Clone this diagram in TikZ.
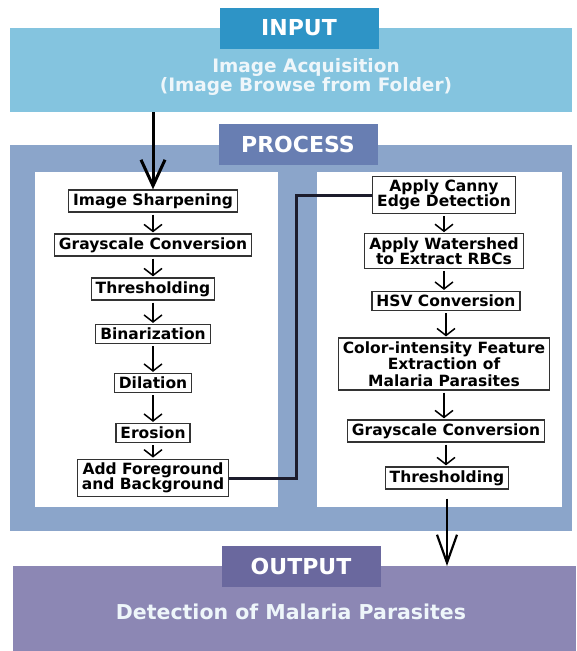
\documentclass[tikz,border=0pt]{standalone}
\usepackage{fontspec}
\setmainfont{DejaVu Sans}
\usepackage{tikz}
\usetikzlibrary{arrows.meta, positioning}

\definecolor{inlabel}{HTML}{2E94C6}
\definecolor{inband}{HTML}{84C4DF}
\definecolor{proclabel}{HTML}{687EB2}
\definecolor{procband}{HTML}{8BA5CA}
\definecolor{outlabel}{HTML}{6A689E}
\definecolor{outband}{HTML}{8C87B4}
\definecolor{bandtext}{HTML}{EEF6FA}
\definecolor{wire}{HTML}{1C1C2C}

\begin{document}
\begin{tikzpicture}[
		x=1pt, y=-1pt,
		band/.style={rectangle, inner sep=0pt, anchor=north west},
		header/.style={rectangle, inner sep=0pt, minimum width=159pt, minimum height=41pt,
			text=white, font=\fontsize{22}{24}\selectfont\bfseries},
		stepbox/.style={draw=black!80, line width=1.2pt, fill=white, align=center,
			inner xsep=4.5pt, inner ysep=3.5pt,
			font=\fontsize{15.5}{15.5}\selectfont\bfseries},
		flow/.style={-{Straight Barb[length=7pt, width=18pt]}, line width=1.5pt, shorten <=2pt, shorten >=1pt},
		bigflow/.style={-{Straight Barb[length=26pt, width=24pt]}, line width=3pt},
		link/.style={wire, line width=3pt}
		]
		
		\useasboundingbox (0,0) rectangle (576,651);
		
		% === INPUT ===
		\node[band, fill=inband, minimum width=562pt, minimum height=84pt] (inband) at (10,28) {};
		\node[header, fill=inlabel] (inlabel) at (299,28) {INPUT};
		\node[text=bandtext, align=center, font=\fontsize{18.5}{19.5}\selectfont\bfseries]
		(intext) at (306,77) {Image Acquisition\\(Image Browse from Folder)};
		
		% === PROCESS ===
		\node[band, fill=procband, minimum width=562pt, minimum height=386pt] (procband) at (10,145) {};
		\node[header, fill=proclabel] (proclabel) at (298,144) {PROCESS};
		\node[band, fill=white, minimum width=243pt, minimum height=335pt] (leftpanel) at (35,172) {};
		\node[band, fill=white, minimum width=245pt, minimum height=335pt] (rightpanel) at (317,172) {};
		
		% === OUTPUT ===
		\node[band, fill=outband, minimum width=563pt, minimum height=85pt] (outband) at (13,566) {};
		\node[header, fill=outlabel] (outlabel) at (301,566) {OUTPUT};
		\node[text=bandtext, font=\fontsize{20.5}{22}\selectfont\bfseries] (outtext) at (291,612) {Detection of Malaria Parasites};
		
		% === LEFT COLUMN ===
		\node[stepbox] (sharp) at (153,201) {Image Sharpening};
		\node[stepbox] (grayA) at (153,245) {Grayscale Conversion};
		\node[stepbox] (thrA) at (153,289) {Thresholding};
		\node[stepbox] (binar) at (153,334) {Binarization};
		\node[stepbox] (dilat) at (153,383) {Dilation};
		\node[stepbox] (erosn) at (153,433) {Erosion};
		\node[stepbox] (addfg) at (153,478) {Add Foreground\\and Background};
		
		% === RIGHT COLUMN ===
		\node[stepbox] (canny) at (444,195) {Apply Canny\\Edge Detection};
		\node[stepbox] (wshed) at (444,251) {Apply Watershed\\to Extract RBCs};
		\node[stepbox] (hsv) at (446,301) {HSV Conversion};
		\node[stepbox, font=\fontsize{15.5}{16.5}\selectfont\bfseries] (color) at (444,364) {Color-intensity Feature\\Extraction of\\Malaria Parasites};
		\node[stepbox] (grayB) at (446,431) {Grayscale Conversion};
		\node[stepbox] (thrB) at (447,478) {Thresholding};
		
		% === STEP ARROWS ===
		\foreach \a/\b in {sharp/grayA, grayA/thrA, thrA/binar, binar/dilat, dilat/erosn, erosn/addfg,
			canny/wshed, wshed/hsv, hsv/color, color/grayB, grayB/thrB} {
			\draw[flow] (\a) -- (\a |- \b.north);
		}
		
		% input -> first step, last step -> output
		\draw[bigflow] (sharp.north |- inband.south) -- (sharp.north);
		\draw[bigflow, line width=2.2pt, -{Straight Barb[length=28pt, width=20pt]}, shorten <=9pt]
		(thrB.south) -- (thrB.south |- outband.north);
		
		% left column -> right column
		\coordinate (jog) at (296,0);
		\draw[link] (addfg.east) -| (jog |- canny.west) -- (canny.west);
		
	\end{tikzpicture}
\end{document}
